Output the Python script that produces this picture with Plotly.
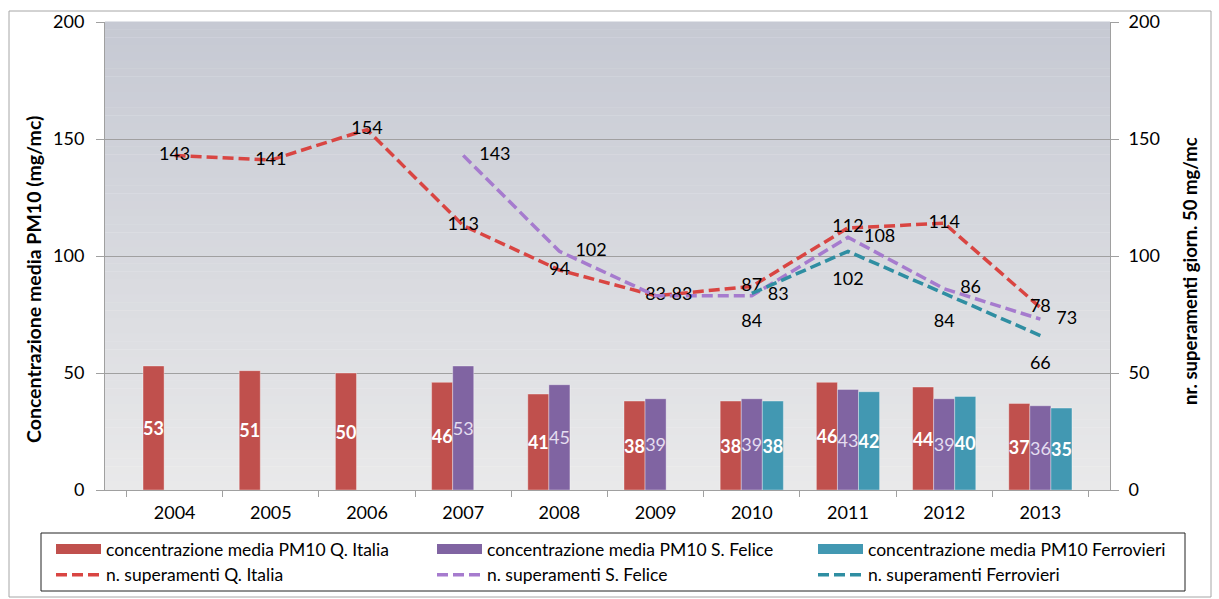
import plotly.graph_objects as go

W, H = 1219, 599

years = ["2004", "2005", "2006", "2007", "2008", "2009", "2010", "2011", "2012", "2013"]
pm10_italia = [53, 51, 50, 46, 41, 38, 38, 46, 44, 37]
pm10_felice = [None, None, None, 53, 45, 39, 39, 43, 39, 36]
pm10_ferrovieri = [None, None, None, None, None, None, 38, 42, 40, 35]
sup_italia = [143, 141, 154, 113, 94, 83, 87, 112, 114, 78]
sup_felice = [None, None, None, 143, 102, 83, 83, 108, 86, 73]
sup_ferrovieri = [None, None, None, None, None, None, 84, 102, 84, 66]

bar_names = ["concentrazione media PM10 Q. Italia",
             "concentrazione media PM10 S. Felice",
             "concentrazione media PM10 Ferrovieri"]
line_names = ["n. superamenti Q. Italia",
              "n. superamenti S. Felice",
              "n. superamenti Ferrovieri"]
left_title = "Concentrazione media PM10 (mg/mc)"
right_title = "nr. superamenti giorn. 50 mg/mc"

FONT = "Lato, 'Open Sans', sans-serif"
bar_colors = ["#C0504D", "#8064A2", "#4298B2"]
line_colors = ["#D94542", "#A67BCE", "#2F8EA2"]


def lab(vals):
    return ["" if v is None else str(v) for v in vals]


# pixel helpers (layout only)
def px(x):
    return x / W


def py(y):
    return 1 - y / H


fig = go.Figure()

# legend-only swatches for the bar series (wide rectangles as in the original)
for name, col in zip(bar_names, bar_colors):
    fig.add_trace(go.Scatter(x=[None], y=[None], mode="lines", name=name,
                             line=dict(color=col, width=13), hoverinfo="skip",
                             legendgroup=name))

bar_specs = [
    (pm10_italia, "white", "bold"),
    (pm10_felice, "#E4DDF0", "normal"),
    (pm10_ferrovieri, "white", "bold"),
]
for (vals, tcol, tw), name, col in zip(bar_specs, bar_names, bar_colors):
    fig.add_trace(go.Bar(
        x=years, y=vals, name=name, showlegend=False, legendgroup=name,
        marker=dict(color=col, line=dict(color="rgba(255,255,255,0.35)", width=1)),
        text=lab(vals), textposition="inside", insidetextanchor="middle",
        constraintext="none", textangle=0,
        textfont=dict(family=FONT, size=18, color=tcol, weight=tw),
        hoverinfo="skip",
    ))

# (values, label position, invisible marker size used as label offset)
line_specs = [
    (sup_italia, "middle center", 0),
    (sup_felice, "middle right", 24),
    (sup_ferrovieri, "bottom center", 31),
]
for (vals, tpos, msize), name, col in zip(line_specs, line_names, line_colors):
    fig.add_trace(go.Scatter(
        x=years, y=vals, name=name, yaxis="y2",
        mode="lines+markers+text" if msize else "lines+text",
        marker=dict(size=max(msize, 1), color="rgba(0,0,0,0)"),
        line=dict(color=col, width=3.5, dash="11px,5px"),
        text=lab(vals), textposition=tpos,
        textfont=dict(family=FONT, size=18, color="black"),
        connectgaps=False, hoverinfo="skip", cliponaxis=False,
    ))

# gradient plot-area background
N = 60
top = (198, 201, 211)
bot = (233, 233, 234)
shapes = []
for i in range(N):
    t = i / (N - 1)
    c = tuple(round(top[k] + (bot[k] - top[k]) * t) for k in range(3))
    shapes.append(dict(type="rect", xref="x domain", yref="y domain",
                       x0=0, x1=1, y0=1 - (i + 1) / N, y1=1 - i / N + 0.001,
                       fillcolor="rgb(%d,%d,%d)" % c, line=dict(width=0),
                       layer="below"))
# outer chart border
shapes.append(dict(type="rect", xref="paper", yref="paper",
                   x0=px(9), x1=px(1211), y0=py(597), y1=py(11),
                   line=dict(color="#A6A6A6", width=1), fillcolor="rgba(0,0,0,0)"))
# legend frame
shapes.append(dict(type="rect", xref="paper", yref="paper",
                   x0=px(41), x1=px(1185), y0=py(591), y1=py(533),
                   line=dict(color="#222222", width=1), fillcolor="rgba(0,0,0,0)"))

# axis titles (positioned like the original, centred on the whole chart block)
annotations = [
    dict(text=left_title, xref="paper", yref="paper", x=px(33), y=py(280),
         xanchor="center", yanchor="middle", textangle=-90, showarrow=False,
         font=dict(family=FONT, size=19.5, color="black", weight="bold")),
    dict(text=right_title, xref="paper", yref="paper", x=px(1190), y=py(271),
         xanchor="center", yanchor="middle", textangle=-90, showarrow=False,
         font=dict(family=FONT, size=18.5, color="black", weight="bold")),
]

fig.update_layout(
    width=W, height=H,
    margin=dict(l=0, r=0, t=0, b=0, autoexpand=False),
    paper_bgcolor="white",
    plot_bgcolor="rgba(0,0,0,0)",
    barmode="group", bargap=0.343, bargroupgap=0,
    font=dict(family=FONT, size=18, color="black"),
    showlegend=True,
    hovermode=False,
    shapes=shapes,
    annotations=annotations,
    xaxis=dict(
        type="category", domain=[px(105), px(1110)],
        showline=True, linecolor="#A0A0A0", linewidth=1,
        ticks="outside", tickson="boundaries", ticklen=6, tickcolor="#A0A0A0",
        tickfont=dict(family=FONT, size=18, color="black"),
        ticklabelstandoff=6,
        showgrid=False, zeroline=False, fixedrange=True, automargin=False,
    ),
    yaxis=dict(
        domain=[1 - 490 / H, 1 - 22 / H], range=[0, 200], dtick=50,
        showline=True, linecolor="#A0A0A0", linewidth=1,
        ticks="outside", ticklen=8, tickcolor="#A0A0A0",
        showgrid=True, gridcolor="#A0A0A0", gridwidth=1,
        zeroline=False, fixedrange=True, automargin=False,
        tickfont=dict(family=FONT, size=18, color="black"),
        ticklabelstandoff=8,
    ),
    yaxis2=dict(
        overlaying="y", side="right", anchor="x", range=[0, 200], dtick=50,
        showline=True, linecolor="#A0A0A0", linewidth=1,
        ticks="outside", ticklen=8, tickcolor="#A0A0A0",
        showgrid=False, zeroline=False, fixedrange=True, automargin=False,
        tickfont=dict(family=FONT, size=18, color="black"),
        ticklabelstandoff=6,
    ),
    legend=dict(
        orientation="h", x=px(51), y=py(531), xanchor="left", yanchor="top",
        entrywidth=321, entrywidthmode="pixels", itemwidth=45,
        traceorder="normal", bgcolor="rgba(0,0,0,0)", borderwidth=0,
        font=dict(family=FONT, size=17.5, color="black"),
        itemclick=False, itemdoubleclick=False,
    ),
)

fig.write_html("out.html",
               config={"displayModeBar": False},
               post_script="document.body.style.margin='0px';"
                           "document.body.style.overflow='hidden';")
